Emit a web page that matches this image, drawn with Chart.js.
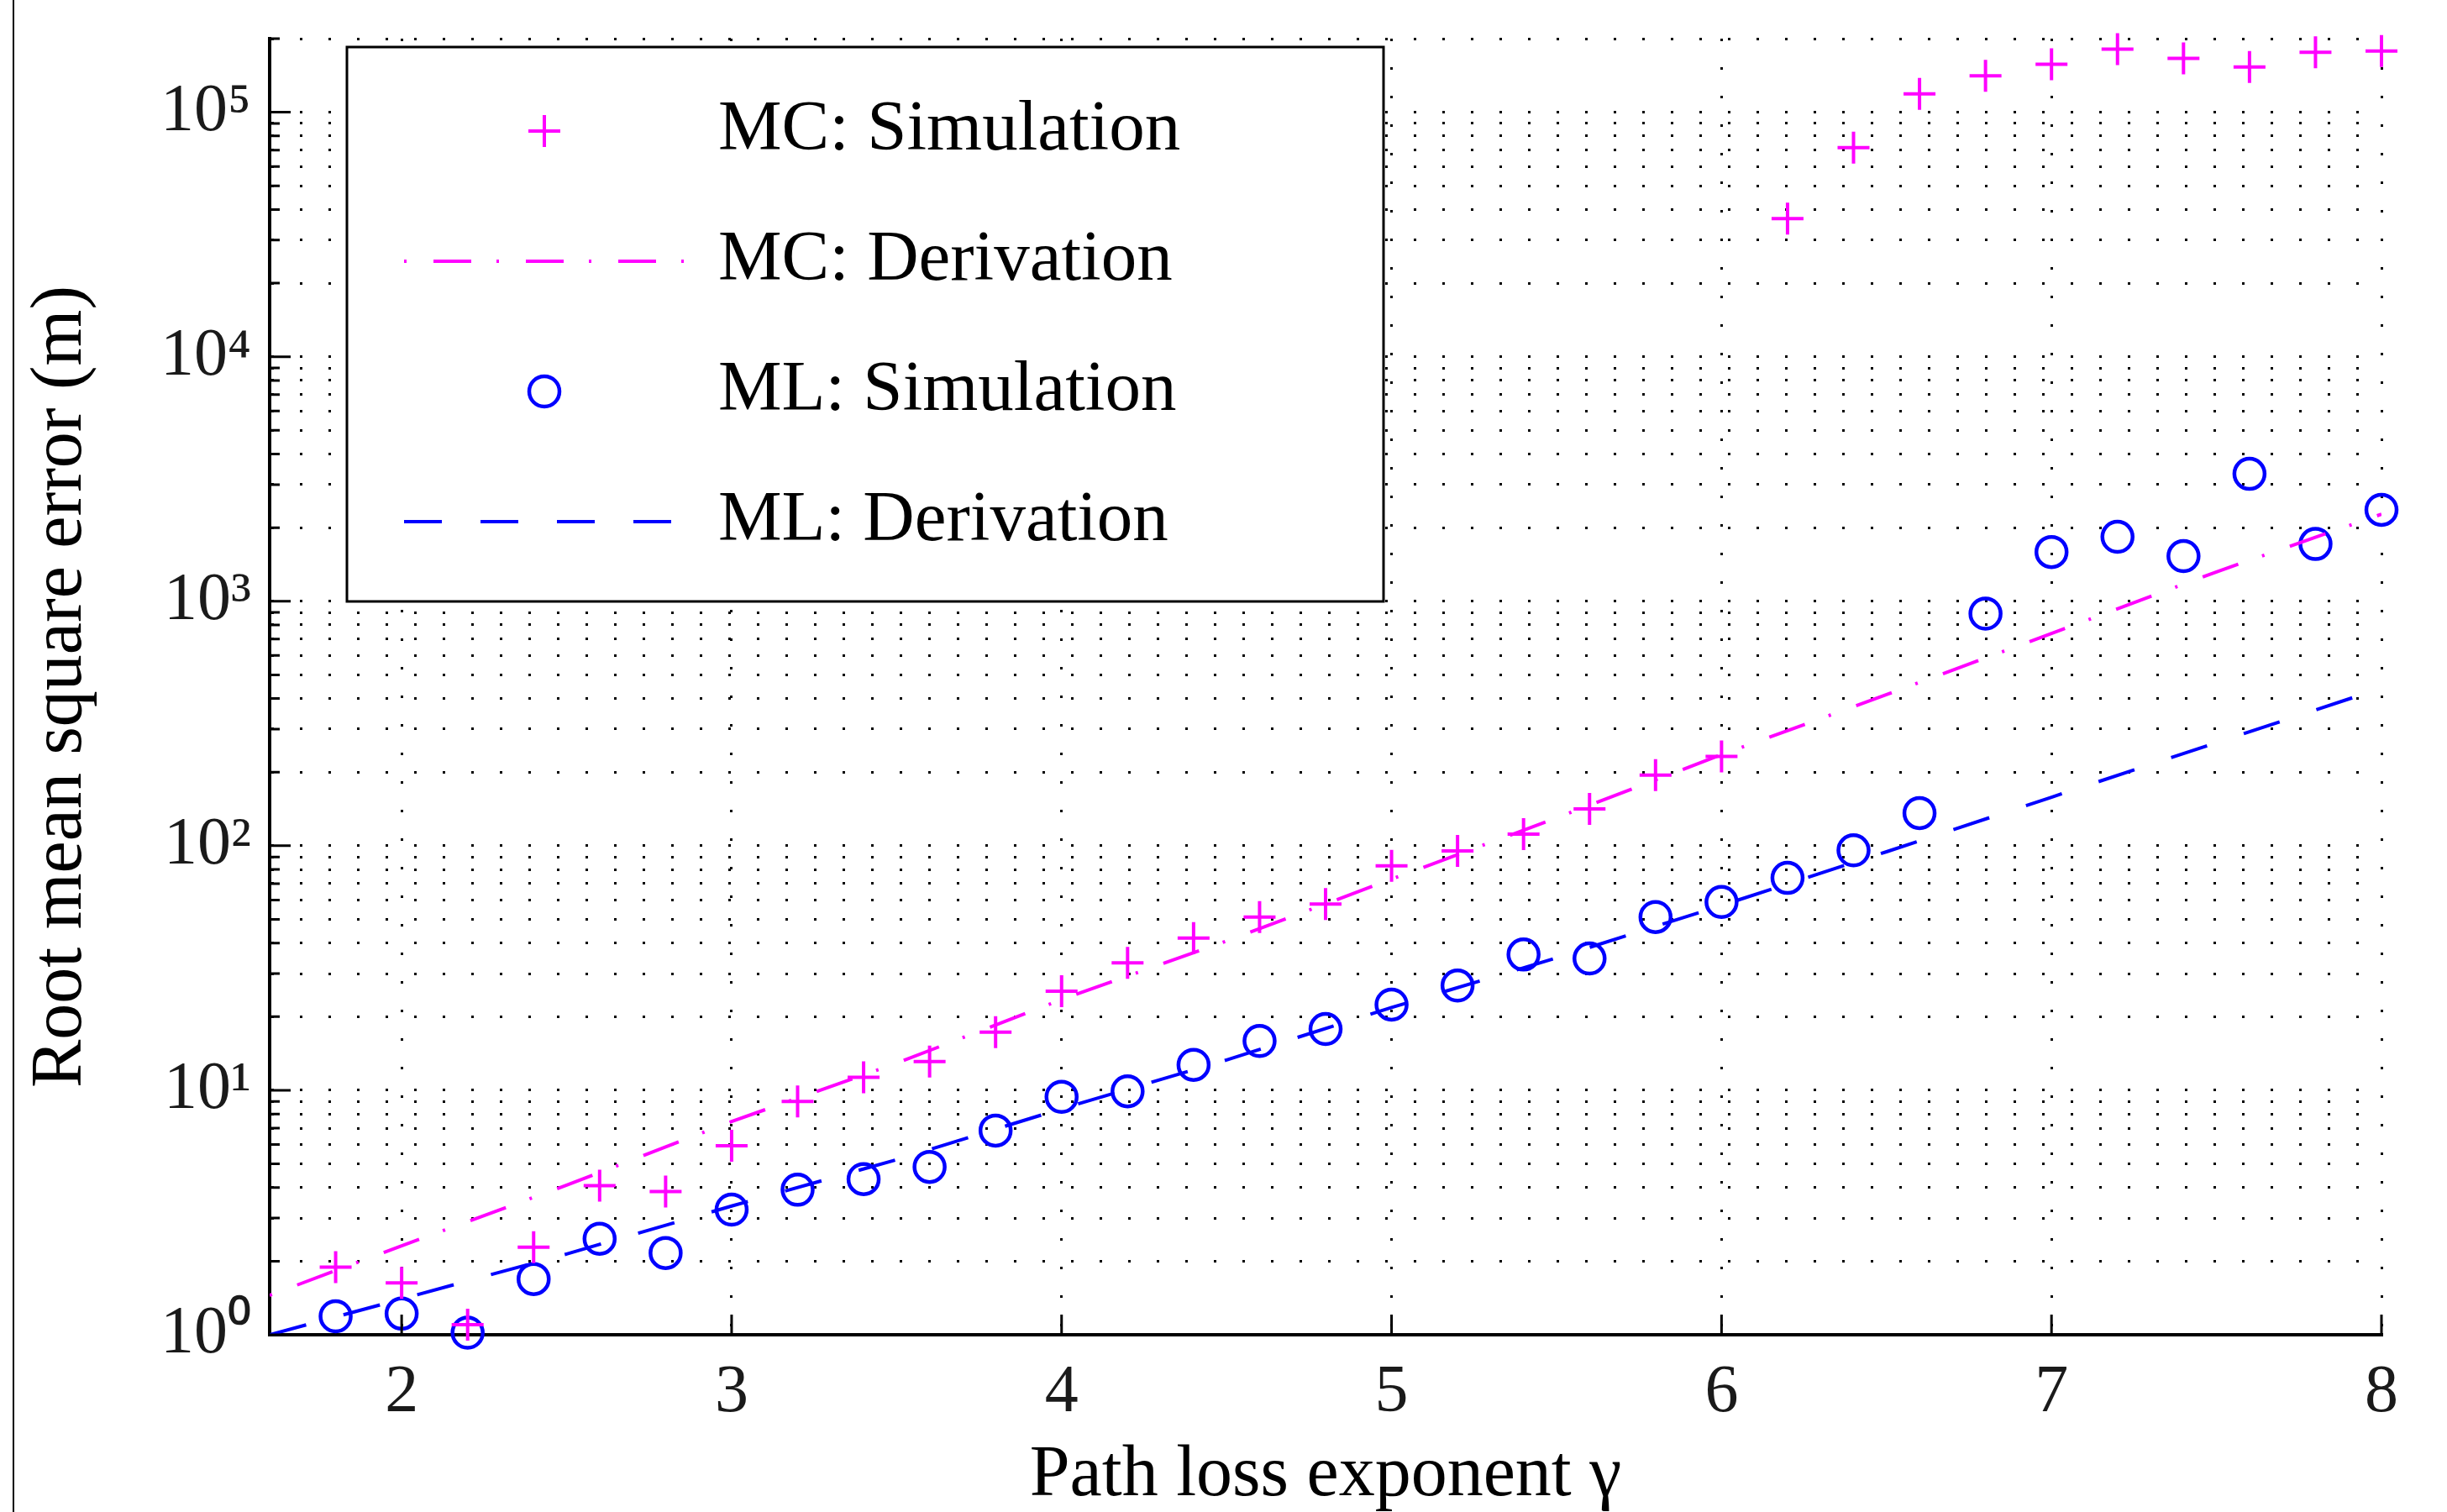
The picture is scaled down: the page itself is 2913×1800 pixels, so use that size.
<!DOCTYPE html>
<html>
<head>
<meta charset="utf-8">
<title>RMSE vs path loss exponent</title>
<script src="https://cdn.jsdelivr.net/npm/chart.js@4.4.1/dist/chart.umd.min.js"></script>
<style>
  html, body { margin: 0; padding: 0; background: #fff; }
  #wrap { position: relative; width: 2913px; height: 1800px; }
  #frame { position: absolute; left: 15px; top: 0; width: 2px; height: 1800px; background: #000; }
</style>
</head>
<body>
<div id="wrap">
  <canvas id="chart" width="2913" height="1800"></canvas>
  <div id="frame"></div>
</div>
<script>
// simulated points, every 0.2 of gamma
const gammaSim = [1.8, 2.0, 2.2, 2.4, 2.6, 2.8, 3.0, 3.2, 3.4, 3.6, 3.8, 4.0, 4.2, 4.4, 4.6, 4.8,
                  5.0, 5.2, 5.4, 5.6, 5.8, 6.0, 6.2, 6.4, 6.6, 6.8, 7.0, 7.2, 7.4, 7.6, 7.8, 8.0];
const mcSim = [1.89, 1.63, 1.10, 2.28, 4.07, 3.85, 5.93, 9.0, 11.3, 13.1, 17.3, 25.4, 33.2, 41.9, 51.1, 57.7,
               82.7, 95.3, 111.6, 141.6, 194.5, 232, 36700, 71600, 119000, 141000, 157000, 181000, 166000, 153000, 176000, 178000];
const mlSim = [1.19, 1.22, 1.02, 1.69, 2.47, 2.16, 3.25, 3.92, 4.33, 4.86, 6.84, 9.4, 9.9, 12.7, 15.9, 17.8,
               22.4, 26.8, 35.9, 34.6, 51.1, 58.9, 73.9, 95.8, 136, 890, 1590, 1835, 1530, 3320, 1715, 2365];

// derived curves
const gammaDeriv = [1.6, 2.0, 2.5, 3.0, 3.5, 4.0, 4.5, 5.0, 5.5, 6.0, 6.5, 7.0, 7.5, 8.0];
const mcDeriv = [1.45, 2.31, 4.09, 7.45, 12.9, 23.5, 40.8, 73, 130, 236, 415, 738, 1319, 2270];
const mlDeriv = [1.0, 1.40, 2.14, 3.36, 5.2, 8.4, 13.3, 21.8, 34.8, 57, 94.5, 158, 264, 441];

const xTickValues = [2, 3, 4, 5, 6, 7, 8];
const yTickValues = [1, 10, 100, 1000, 10000, 100000];
const yTickLabels = ['10\u2070', '10\u00b9', '10\u00b2', '10\u00b3', '10\u2074', '10\u2075'];

const serif = '"Liberation Serif", "Times New Roman", serif';

function toPoints(xs, ys) {
    return xs.map((x, i) => ({ x: x, y: ys[i] }));
}

// MATLAB style ticks pointing into the plot
const innerTicks = {
    id: 'innerTicks',
    afterDatasetsDraw(chart) {
        const { ctx, chartArea, scales } = chart;
        ctx.save();
        ctx.strokeStyle = '#000';
        ctx.lineWidth = 3;
        ctx.beginPath();
        scales.y.ticks.forEach(t => {
            const y = scales.y.getPixelForValue(t.value);
            const len = yTickValues.includes(t.value) ? 25 : 12;
            ctx.moveTo(chartArea.left, y);
            ctx.lineTo(chartArea.left + len, y);
        });
        scales.x.ticks.forEach(t => {
            const x = scales.x.getPixelForValue(t.value);
            ctx.moveTo(x, chartArea.bottom);
            ctx.lineTo(x, chartArea.bottom - 24);
        });
        ctx.stroke();
        ctx.restore();
    }
};

// boxed legend in the upper left of the plot
const boxLegend = {
    id: 'boxLegend',
    afterDraw(chart) {
        const ctx = chart.ctx;
        const left = 413, top = 56, right = 1647, bottom = 716;
        ctx.save();
        ctx.fillStyle = '#fff';
        ctx.fillRect(left, top, right - left, bottom - top);
        ctx.lineWidth = 3;
        ctx.strokeStyle = '#000';
        ctx.strokeRect(left, top, right - left, bottom - top);

        chart.data.datasets.forEach((ds, i) => {
            const y = 156 + i * 155;
            const cx = 648;
            ctx.strokeStyle = ds.borderColor;
            if (ds.showLine === false) {
                ctx.setLineDash([]);
                ctx.lineWidth = ds.pointBorderWidth;
                ctx.beginPath();
                if (ds.pointStyle === 'cross') {
                    const r = ds.pointRadius;
                    ctx.moveTo(cx - r, y); ctx.lineTo(cx + r, y);
                    ctx.moveTo(cx, y - r); ctx.lineTo(cx, y + r);
                } else {
                    ctx.arc(cx, y, ds.pointRadius, 0, Math.PI * 2);
                }
                ctx.stroke();
            } else {
                ctx.lineWidth = ds.borderWidth;
                ctx.setLineDash(ds.borderDash);
                ctx.lineDashOffset = ds.borderDashOffset || 0;
                ctx.beginPath();
                ctx.moveTo(481, y);
                ctx.lineTo(815, y);
                ctx.stroke();
                ctx.setLineDash([]);
            }
            ctx.fillStyle = '#000';
            ctx.font = '85px ' + serif;
            ctx.textBaseline = 'middle';
            ctx.textAlign = 'left';
            ctx.fillText(ds.label, 855, y);
        });
        ctx.restore();
    }
};

const ctx = document.getElementById('chart').getContext('2d');

new Chart(ctx, {
    type: 'line',
    data: {
        datasets: [
            {
                label: 'MC: Simulation',
                data: toPoints(gammaSim, mcSim),
                showLine: false,
                pointStyle: 'cross',
                pointRadius: 19,
                pointBorderWidth: 4,
                borderColor: '#ff00ff',
                backgroundColor: '#ff00ff',
                clip: false
            },
            {
                label: 'MC: Derivation',
                data: toPoints(gammaDeriv, mcDeriv),
                borderColor: '#ff00ff',
                borderWidth: 4,
                borderDash: [45, 30, 3, 32],
                borderDashOffset: 75,
                pointRadius: 0,
                fill: false,
                tension: 0
            },
            {
                label: 'ML: Simulation',
                data: toPoints(gammaSim, mlSim),
                showLine: false,
                pointStyle: 'circle',
                pointRadius: 18,
                pointBorderWidth: 4.5,
                borderColor: '#0000ff',
                backgroundColor: 'rgba(0,0,0,0)',
                clip: false
            },
            {
                label: 'ML: Derivation',
                data: toPoints(gammaDeriv, mlDeriv),
                borderColor: '#0000ff',
                borderWidth: 4,
                borderDash: [45, 46],
                pointRadius: 0,
                fill: false,
                tension: 0
            }
        ]
    },
    options: {
        responsive: false,
        animation: false,
        devicePixelRatio: 1,
        layout: { padding: { left: 0, top: 46, right: 78, bottom: 0 } },
        plugins: {
            legend: { display: false },
            tooltip: { enabled: false }
        },
        scales: {
            x: {
                type: 'linear',
                min: 1.6,
                max: 8,
                afterBuildTicks: scale => {
                    scale.ticks = xTickValues.map(v => ({ value: v }));
                },
                afterFit: scale => {
                    scale.height = 211;
                    scale.paddingLeft = 0;
                    scale.paddingRight = 0;
                },
                grid: { color: '#000', lineWidth: 3, drawTicks: false },
                border: { display: true, color: '#000', width: 4, dash: [3, 31] },
                ticks: {
                    color: '#1a1a1a',
                    padding: 30,
                    maxRotation: 0,
                    autoSkip: false,
                    font: { family: serif, size: 80, lineHeight: 1 },
                    callback: v => String(v)
                },
                title: {
                    display: true,
                    text: 'Path loss exponent \u03b3',
                    color: '#000',
                    padding: { top: 0, bottom: 0 },
                    font: { family: serif, size: 86, lineHeight: 1 }
                }
            },
            y: {
                type: 'logarithmic',
                min: 1,
                max: 200000,
                afterBuildTicks: scale => {
                    const ticks = [];
                    for (let e = 0; e <= 5; e++) {
                        for (let m = 1; m <= 9; m++) {
                            const v = m * Math.pow(10, e);
                            if (v <= 200000) ticks.push({ value: v });
                        }
                    }
                    scale.ticks = ticks;
                },
                afterFit: scale => {
                    scale.width = 321;
                    scale.paddingTop = 0;
                    scale.paddingBottom = 0;
                },
                grid: { color: '#000', lineWidth: 3, drawTicks: false },
                border: { display: true, color: '#000', width: 4, dash: [3, 31] },
                ticks: {
                    color: '#1a1a1a',
                    padding: 22,
                    autoSkip: false,
                    font: { family: serif, size: 80, lineHeight: 1 },
                    callback: v => {
                        const i = yTickValues.indexOf(v);
                        return i >= 0 ? yTickLabels[i] : '';
                    }
                },
                title: {
                    display: true,
                    text: 'Root mean square error (m)',
                    color: '#000',
                    padding: { top: 22, bottom: 0 },
                    font: { family: serif, size: 86, lineHeight: 1.2 }
                }
            }
        }
    },
    plugins: [innerTicks, boxLegend]
});
</script>
</body>
</html>
